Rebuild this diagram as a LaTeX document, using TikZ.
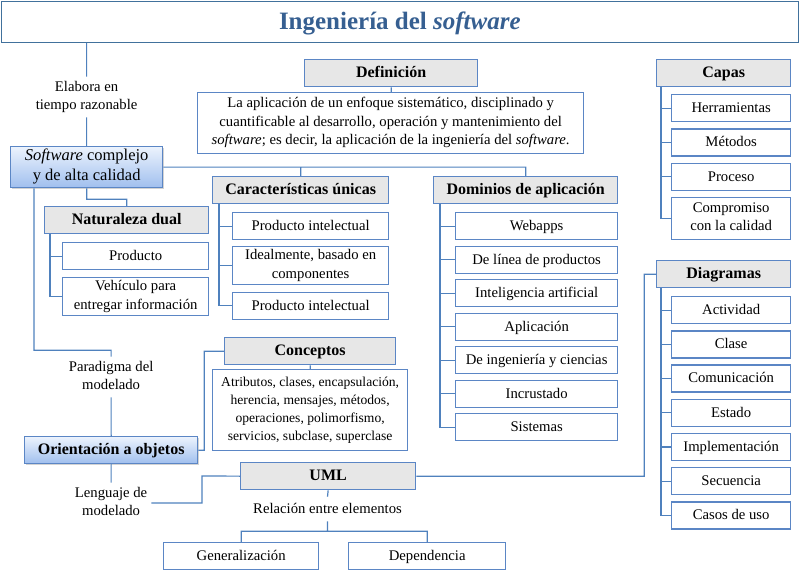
\documentclass[tikz,border=0pt]{standalone}
\usepackage{fontspec}
\setmainfont{Liberation Serif}
\usetikzlibrary{positioning,shadows}
\definecolor{titleblue}{RGB}{54,95,145}
\definecolor{titleline}{RGB}{65,113,156}
\definecolor{boxblue}{RGB}{91,134,197}
\definecolor{lineblue}{RGB}{79,129,189}
\definecolor{headgray}{RGB}{231,231,231}
\definecolor{keytop}{RGB}{236,243,253}
\definecolor{keybottom}{RGB}{160,191,238}
\newcommand{\bodyfont}{\fontsize{14.7}{18.5}\selectfont}
\newcommand{\smallbody}{\fontsize{13.6}{18}\selectfont}
\newcommand{\headfont}{\fontsize{16}{19}\selectfont\bfseries}
\newcommand{\boxstrut}{\rule[-0.25em]{0pt}{1.1em}}
\tikzset{boxed text/.style={execute at begin node=\boxstrut,execute at end node=\boxstrut},
            head node/.style={boxed text,draw=boxblue,fill=headgray,line width=1.3pt,font=\headfont,inner sep=0pt,minimum height=27pt,anchor=north west},
            item node/.style={boxed text,draw=boxblue,fill=white,line width=1.3pt,font=\bodyfont,inner sep=0pt,minimum height=27pt,align=center,anchor=north west},
            key node/.style={boxed text,draw=boxblue,top color=keytop,bottom color=keybottom,line width=1.3pt,inner sep=0pt,minimum height=27pt,align=center,anchor=north west,
                             drop shadow={shadow xshift=1.5pt,shadow yshift=-1.5pt,opacity=0.35}},
            tag node/.style={boxed text,fill=white,font=\bodyfont,align=center,inner sep=4pt},
            link line/.style={draw=lineblue,line width=1.2pt},
            }

\begin{document}
\begin{tikzpicture}[x=1pt,y=-1pt]

    \useasboundingbox (0,0) rectangle (800,572);

    \node[boxed text,draw=titleline,line width=1.3pt,minimum width=797pt,minimum height=41pt,anchor=north west,
          font=\fontsize{25}{30}\selectfont\bfseries,text=titleblue] (title) at (0.7,0.7) {Ingeniería del \textit{software}};

    % left column
    \node[tag node] (elab) at (86.6,97) {Elabora en\\tiempo razonable};
    \node[key node,minimum width=152pt,minimum height=41pt,font=\fontsize{16.5}{20}\selectfont] (sw) at (10,146) {\textit{Software} complejo\\y de alta calidad};
    \node[head node,minimum width=164pt] (nat) at (44,206) {Naturaleza dual};
    \node[item node,minimum width=146pt] (nat1) at (62,242) {Producto};
    \node[item node,minimum width=146pt,minimum height=38pt,below=6.7pt of nat1] (nat2) {Vehículo para\\entregar información};
    \node[tag node] (parad) at (111.1,377) {Paradigma del\\modelado};
    \node[key node,minimum width=173pt,font=\headfont] (oo) at (24,436) {Orientación a objetos};
    \node[tag node] (leng) at (111.1,503) {Lenguaje de\\modelado};

    % definition
    \node[head node,minimum width=173pt] (def) at (304,59) {Definición};
    \node[item node,minimum width=386pt,minimum height=61pt] (deftext) at (197,92)
        {La aplicación de un enfoque sistemático, disciplinado y\\cuantificable al desarrollo, operación y mantenimiento del\\\textit{software}; es decir, la aplicación de la ingeniería del \textit{software}.};

    % unique features
    \node[head node,minimum width=176pt] (car) at (212,176) {Características únicas};
    \node[item node,minimum width=156pt] (car1) at (232,212) {Producto intelectual};
    \node[item node,minimum width=156pt,minimum height=38pt,below=5.7pt of car1] (car2) {Idealmente, basado en\\componentes};
    \node[item node,minimum width=156pt,below=6.2pt of car2] (car3) {Producto intelectual};

    % concepts
    \node[head node,minimum width=171pt] (conc) at (224,337) {Conceptos};
    \node[item node,minimum width=195pt,minimum height=81pt,font=\smallbody] (conctext) at (212,369)
        {Atributos, clases, encapsulación,\\herencia, mensajes, métodos,\\operaciones, polimorfismo,\\servicios, subclase, superclase};

    % UML
    \node[head node,minimum width=175pt] (uml) at (240,462) {UML};
    \node[tag node] (rel) at (327.5,509) {Relación entre elementos};
    \node[item node,minimum width=155pt] (gen) at (163,542) {Generalización};
    \node[item node,minimum width=157pt] (dep) at (348,542) {Dependencia};

    % application domains
    \node[head node,minimum width=184pt] (dom) at (433,176) {Dominios de aplicación};
    \node[item node,minimum width=162pt] (dom1) at (455,212) {Webapps};
    \node[item node,minimum width=162pt,below=5.2pt of dom1] (dom2) {De línea de productos};
    \node[item node,minimum width=162pt,below=5.2pt of dom2] (dom3) {Inteligencia artificial};
    \node[item node,minimum width=162pt,below=5.2pt of dom3] (dom4) {Aplicación};
    \node[item node,minimum width=162pt,below=5.2pt of dom4] (dom5) {De ingeniería y ciencias};
    \node[item node,minimum width=162pt,below=5.2pt of dom5] (dom6) {Incrustado};
    \node[item node,minimum width=162pt,below=5.2pt of dom6] (dom7) {Sistemas};

    % layers
    \node[head node,minimum width=134pt] (capas) at (656,59) {Capas};
    \node[item node,minimum width=119pt] (capas1) at (671,94) {Herramientas};
    \node[item node,minimum width=119pt,below=6pt of capas1] (capas2) {Métodos};
    \node[item node,minimum width=119pt,below=6pt of capas2] (capas3) {Proceso};
    \node[item node,minimum width=119pt,minimum height=42pt,below=6pt of capas3] (capas4) {Compromiso\\con la calidad};

    % diagrams
    \node[head node,minimum width=134pt] (diag) at (656,260) {Diagramas};
    \node[item node,minimum width=119pt] (diag1) at (671,296) {Actividad};
    \node[item node,minimum width=119pt,below=5.9pt of diag1] (diag2) {Clase};
    \node[item node,minimum width=119pt,below=5.9pt of diag2] (diag3) {Comunicación};
    \node[item node,minimum width=119pt,below=5.9pt of diag3] (diag4) {Estado};
    \node[item node,minimum width=119pt,below=5.9pt of diag4] (diag5) {Implementación};
    \node[item node,minimum width=119pt,below=5.9pt of diag5] (diag6) {Secuencia};
    \node[item node,minimum width=119pt,below=5.9pt of diag6] (diag7) {Casos de uso};

    \coordinate (ujoin) at (202,476);

    \path[link line]
    (elab.north |- title.south) -- (elab.north)
    (elab.south) -- (elab.south |- sw.north)
    (sw.east) -| (dom.north)
    (car.north) -- (car.north |- sw.east)
    (sw.south) -- ++(0,11) -| (nat.north)
    ([xshift=24pt]sw.south west) -- ++(0,162) -| (parad.north)
    (parad.south) -- (oo.north)
    (oo.south) -- (leng.north)
    (oo.east) -- ++(6,0) |- (conc.west)
    (def.south) -- (def.south |- deftext.north)
    (conc.south) -- (conctext.north)
    (leng.east) -| (ujoin) -- (uml.west)
    (uml.east) -- ++(228,0) |- (diag.west)
    (uml.south) -- (rel.north)
    (rel.south) -- ++(0,10) coordinate (rjoin)
    (gen.north) |- (rjoin) -| (dep.north);

    % list spines
    \foreach \i in {1,2} \path[link line] ([xshift=6pt]nat.south west) |- (nat\i.west);
    \foreach \i in {1,2,3} \path[link line] ([xshift=7pt]car.south west) |- (car\i.west);
    \foreach \i in {1,...,7} \path[link line] ([xshift=7pt]dom.south west) |- (dom\i.west);
    \foreach \i in {1,...,4} \path[link line] ([xshift=5pt]capas.south west) |- (capas\i.west);
    \foreach \i in {1,...,7} \path[link line] ([xshift=5pt]diag.south west) |- (diag\i.west);

\end{tikzpicture}
\end{document}
